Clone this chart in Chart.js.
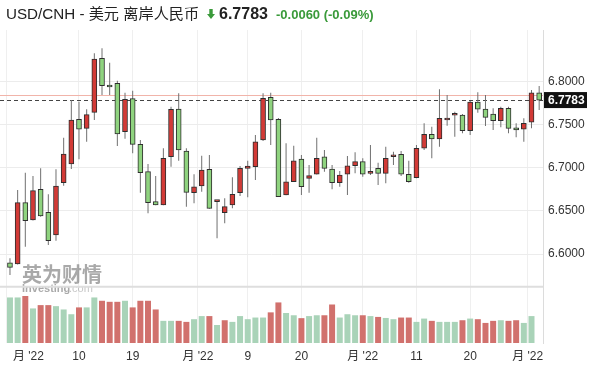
<!DOCTYPE html>
<html>
<head>
<meta charset="utf-8">
<script src="https://cdn.jsdelivr.net/npm/chart.js@4.4.0/dist/chart.umd.min.js"></script>
<style>
  html, body { margin: 0; padding: 0; background: #fff; }
  #wrap { position: relative; width: 600px; height: 368px; overflow: hidden; }
  #chart { position: absolute; left: 0; top: 0; }
  .hd { position: absolute; white-space: nowrap; font-family: "Liberation Sans", "Noto Sans CJK SC", sans-serif; }
  #ttl { left: 6px; top: 6px; font-size: 15.2px; line-height: 15.2px; color: #222; }
  #arr { left: 207px; top: 9px; }
  #px { left: 219px; top: 6px; font-size: 16px; line-height: 16px; font-weight: bold; color: #222; }
  #chg { left: 276px; top: 8px; font-size: 13px; line-height: 13px; font-weight: bold; color: #3a9a3a; }
</style>
</head>
<body>
<div id="wrap">
  <canvas id="chart" width="600" height="368"></canvas>
  <span class="hd" id="ttl">USD/CNH - 美元 离岸人民币</span>
  <svg class="hd" id="arr" width="8" height="10" viewBox="0 0 8 10"><path d="M2.3 0h3.4v5h2.3L4 10 0 5h2.3z" fill="#3a9a3a"/></svg>
  <span class="hd" id="px">6.7783</span>
  <span class="hd" id="chg">-0.0060 (-0.09%)</span>
</div>
<script>
// daily candles, oldest first
var opens = [6.5900, 6.5886, 6.6595, 6.6395, 6.6750, 6.6484, 6.6221, 6.6826, 6.7043, 6.7560,
  6.7456, 6.7641, 6.8266, 6.7957, 6.7977, 6.7417, 6.7799, 6.7271, 6.6954, 6.6607,
  6.6568, 6.7127, 6.7679, 6.7193, 6.6711, 6.6788, 6.6982, 6.6607, 6.6479, 6.6568,
  6.6711, 6.6993, 6.7012, 6.7321, 6.7815, 6.7560, 6.6684, 6.6838, 6.7101, 6.6877,
  6.6924, 6.7127, 6.6985, 6.6826, 6.6924, 6.7023, 6.7070, 6.6935, 6.6993, 6.6935,
  6.7127, 6.7155, 6.6924, 6.6884, 6.7225, 6.7387, 6.7332, 6.7552, 6.7607, 6.7610,
  6.7428, 6.7761, 6.7679, 6.7622, 6.7544, 6.7688, 6.7463, 6.7445, 6.7526, 6.7868];
var highs = [6.5951, 6.6742, 6.6942, 6.6904, 6.6993, 6.6692, 6.6982, 6.7347, 6.7784, 6.7764,
  6.7676, 6.8324, 6.8382, 6.8215, 6.8007, 6.7868, 6.7891, 6.7321, 6.7043, 6.6904,
  6.7225, 6.7706, 6.7861, 6.7225, 6.6924, 6.7139, 6.7147, 6.6626, 6.6646, 6.6889,
  6.7020, 6.7081, 6.7379, 6.7861, 6.7868, 6.7575, 6.7282, 6.7255, 6.7147, 6.7031,
  6.7347, 6.7205, 6.7031, 6.6962, 6.7136, 6.7178, 6.7109, 6.7263, 6.7058, 6.7243,
  6.7185, 6.7193, 6.7081, 6.7263, 6.7514, 6.7475, 6.7907, 6.7841, 6.7648, 6.7622,
  6.7772, 6.7873, 6.7841, 6.7688, 6.7706, 6.7706, 6.7514, 6.7572, 6.7899, 6.7946];
var lows = [6.5758, 6.5880, 6.6086, 6.6390, 6.6433, 6.6105, 6.6155, 6.6792, 6.6985, 6.7097,
  6.7301, 6.7552, 6.7841, 6.7841, 6.7251, 6.7336, 6.7167, 6.6711, 6.6472, 6.6565,
  6.6565, 6.7012, 6.7081, 6.6549, 6.6588, 6.6722, 6.6525, 6.6183, 6.6357, 6.6530,
  6.6673, 6.6657, 6.6858, 6.7309, 6.7263, 6.6660, 6.6680, 6.6835, 6.6684, 6.6711,
  6.6920, 6.6954, 6.6750, 6.6780, 6.6684, 6.6935, 6.6896, 6.6916, 6.6800, 6.6820,
  6.7031, 6.6904, 6.6826, 6.6877, 6.7205, 6.7109, 6.7243, 6.7486, 6.7359, 6.7398,
  6.7379, 6.7637, 6.7483, 6.7436, 6.7468, 6.7398, 6.7352, 6.7301, 6.7456, 6.7668];
var closes = [6.5847, 6.6595, 6.6387, 6.6734, 6.6441, 6.6155, 6.6788, 6.7159, 6.7552, 6.7445,
  6.7614, 6.8258, 6.7949, 6.7934, 6.7390, 6.7792, 6.7271, 6.6942, 6.6595, 6.6568,
  6.7109, 6.7676, 6.7205, 6.6715, 6.6780, 6.6973, 6.6530, 6.6615, 6.6549, 6.6692,
  6.6993, 6.7020, 6.7301, 6.7803, 6.7552, 6.6664, 6.6838, 6.7081, 6.6780, 6.6908,
  6.7109, 6.6993, 6.6826, 6.6916, 6.7023, 6.7070, 6.6924, 6.6954, 6.6935, 6.7109,
  6.7147, 6.6924, 6.6838, 6.7225, 6.7387, 6.7332, 6.7572, 6.7575, 6.7630, 6.7428,
  6.7761, 6.7679, 6.7583, 6.7544, 6.7688, 6.7456, 6.7436, 6.7514, 6.7868, 6.7783];
var volumes = [220000, 220000, 227000, 167000, 183000, 183000, 178000, 162000, 139000, 172000,
  172000, 220000, 204000, 199000, 199000, 204000, 172000, 204000, 204000, 162000,
  107000, 107000, 107000, 102000, 115000, 130000, 130000, 87000, 110000, 102000,
  130000, 115000, 123000, 123000, 148000, 196000, 145000, 134000, 120000, 130000,
  134000, 134000, 186000, 123000, 139000, 134000, 134000, 130000, 126000, 121000,
  115000, 123000, 123000, 102000, 118000, 107000, 102000, 102000, 102000, 110000,
  118000, 115000, 97000, 107000, 110000, 107000, 110000, 97000, 130000, null];

var lastPrice = 6.7783;
var prevClose = 6.7843;
var priceTicks = [6.60, 6.65, 6.70, 6.75, 6.80];
var volTicks = [100000, 200000];
var volTickText = ['100.0k', '200k'];
var xTickPos = [-0.5, 2.4, 9, 16, 24.5, 31, 38, 46, 53, 60, 67.5];
var xTickText = ['', "月 '22", '10', '19', "月 '22", '9', '20', "月 '22", '11', '20', "月 '22"];

var FONT = '"Liberation Sans", "Noto Sans CJK SC", sans-serif';
var UP = '#d23a36', DOWN = '#8fd37f';          // candles: red up, green down
var VOL_UP = '#a9d3b8', VOL_DOWN = '#d1716d';  // volume: green up, red down
var VOL_PANEL_TOP = 272000;

var bodies = opens.map(function (o, i) { return { x: i, y: [o, closes[i]] }; });
var wicks = lows.map(function (l, i) { return { x: i, y: [l, highs[i]] }; });
var vols = [];
volumes.forEach(function (v, i) { if (v !== null) vols.push({ x: i, y: v }); });

function isUp(i) { return closes[i] >= opens[i]; }
function volUp(i) { return i === 0 || closes[i] >= closes[i - 1]; }

var overlay = {
  id: 'overlay',
  beforeDatasetsDraw: function (chart) {
    var c = chart.ctx, a = chart.chartArea, y = chart.scales.y, yv = chart.scales.yv;
    c.save();
    // watermark
    c.globalAlpha = 0.6;
    c.fillStyle = '#707070';
    c.font = 'bold 20px "Noto Sans CJK SC"';
    c.textBaseline = 'alphabetic';
    c.fillText('英为财情', 22, 282);
    c.font = 'bold 11px ' + FONT;
    c.fillText('Investing', 22, 292);
    c.fillStyle = '#a0a0a0';
    c.font = '11px ' + FONT;
    c.fillText('.com', 22 + c.measureText('Investing').width + 3, 292);
    c.globalAlpha = 1;
    // panel separator
    var sy = yv.getPixelForValue(VOL_PANEL_TOP);
    c.strokeStyle = '#dedede';
    c.lineWidth = 2;
    c.beginPath(); c.moveTo(a.left, sy); c.lineTo(a.right, sy); c.stroke();
    // previous close
    var py = Math.round(y.getPixelForValue(prevClose)) + 0.5;
    c.strokeStyle = '#f1b4aa';
    c.lineWidth = 1;
    c.beginPath(); c.moveTo(a.left, py); c.lineTo(a.right, py); c.stroke();
    // last price
    var ly = Math.round(y.getPixelForValue(lastPrice)) + 0.5;
    c.strokeStyle = '#444';
    c.setLineDash([4, 3]);
    c.beginPath(); c.moveTo(a.left, ly); c.lineTo(a.right, ly); c.stroke();
    c.restore();
  },
  afterDraw: function (chart) {
    var c = chart.ctx, a = chart.chartArea, y = chart.scales.y;
    var ly = y.getPixelForValue(lastPrice);
    c.save();
    c.fillStyle = '#111';
    c.fillRect(a.right + 1, ly - 8, 43, 16);
    c.fillStyle = '#fff';
    c.font = 'bold 12px ' + FONT;
    c.textBaseline = 'middle';
    c.fillText(lastPrice.toFixed(4), a.right + 5, ly + 0.5);
    c.restore();
  }
};

new Chart(document.getElementById('chart'), {
  type: 'bar',
  data: {
    datasets: [{
      label: 'body',
      data: bodies,
      yAxisID: 'y',
      backgroundColor: function (ctx) { return isUp(ctx.dataIndex) ? UP : DOWN; },
      borderColor: '#2e2e2e',
      borderWidth: 1,
      borderSkipped: false,
      barThickness: 5,
      minBarLength: 2,
      grouped: false,
      order: 0
    }, {
      label: 'wick',
      data: wicks,
      yAxisID: 'y',
      backgroundColor: '#707070',
      borderWidth: 0,
      inflateAmount: 0,
      barThickness: 1,
      grouped: false,
      order: 1
    }, {
      label: 'volume',
      data: vols,
      yAxisID: 'yv',
      backgroundColor: function (ctx) { return volUp(ctx.raw.x) ? VOL_UP : VOL_DOWN; },
      borderWidth: 0,
      inflateAmount: 0,
      barThickness: 6,
      grouped: false,
      order: 2
    }]
  },
  options: {
    responsive: false,
    animation: false,
    layout: { padding: { top: 30, left: 0, right: 0, bottom: 0 } },
    plugins: { legend: { display: false }, tooltip: { enabled: false } },
    scales: {
      x: {
        type: 'linear',
        offset: false,
        min: -1.3,
        max: 69.5,
        afterBuildTicks: function (s) { s.ticks = xTickPos.map(function (v) { return { value: v }; }); },
        afterFit: function (s) { s.height = 25; },
        ticks: {
          autoSkip: false, maxRotation: 0, padding: 6,
          color: '#333', font: { family: FONT, size: 12 },
          callback: function (v, i) { return xTickText[i]; }
        },
        grid: {
          offset: false,
          drawTicks: false,
          color: function (ctx) { return ctx.index === 1 ? 'rgba(0,0,0,0)' : '#efefef'; }
        },
        border: { display: false }
      },
      yv: {
        position: 'right',
        weight: 0,
        min: 0,
        max: 1512000,
        afterBuildTicks: function (s) { s.ticks = volTicks.map(function (v) { return { value: v }; }); },
        afterFit: function (s) { s.width = 0; },
        ticks: {
          padding: 5, color: '#333', font: { family: FONT, size: 12 },
          callback: function (v, i) { return volTickText[i]; }
        },
        grid: { display: false },
        border: { display: false }
      },
      y: {
        position: 'right',
        weight: 1,
        min: 6.4971,
        max: 6.8594,
        afterBuildTicks: function (s) { s.ticks = priceTicks.map(function (v) { return { value: v }; }); },
        afterFit: function (s) { s.width = 57; },
        ticks: {
          padding: 5, color: '#333', font: { family: FONT, size: 12 },
          callback: function (v) { return v.toFixed(4); }
        },
        grid: { drawTicks: false, color: '#ececec' },
        border: { display: true, color: '#dcdcdc' }
      }
    }
  },
  plugins: [overlay]
});
</script>
</body>
</html>
